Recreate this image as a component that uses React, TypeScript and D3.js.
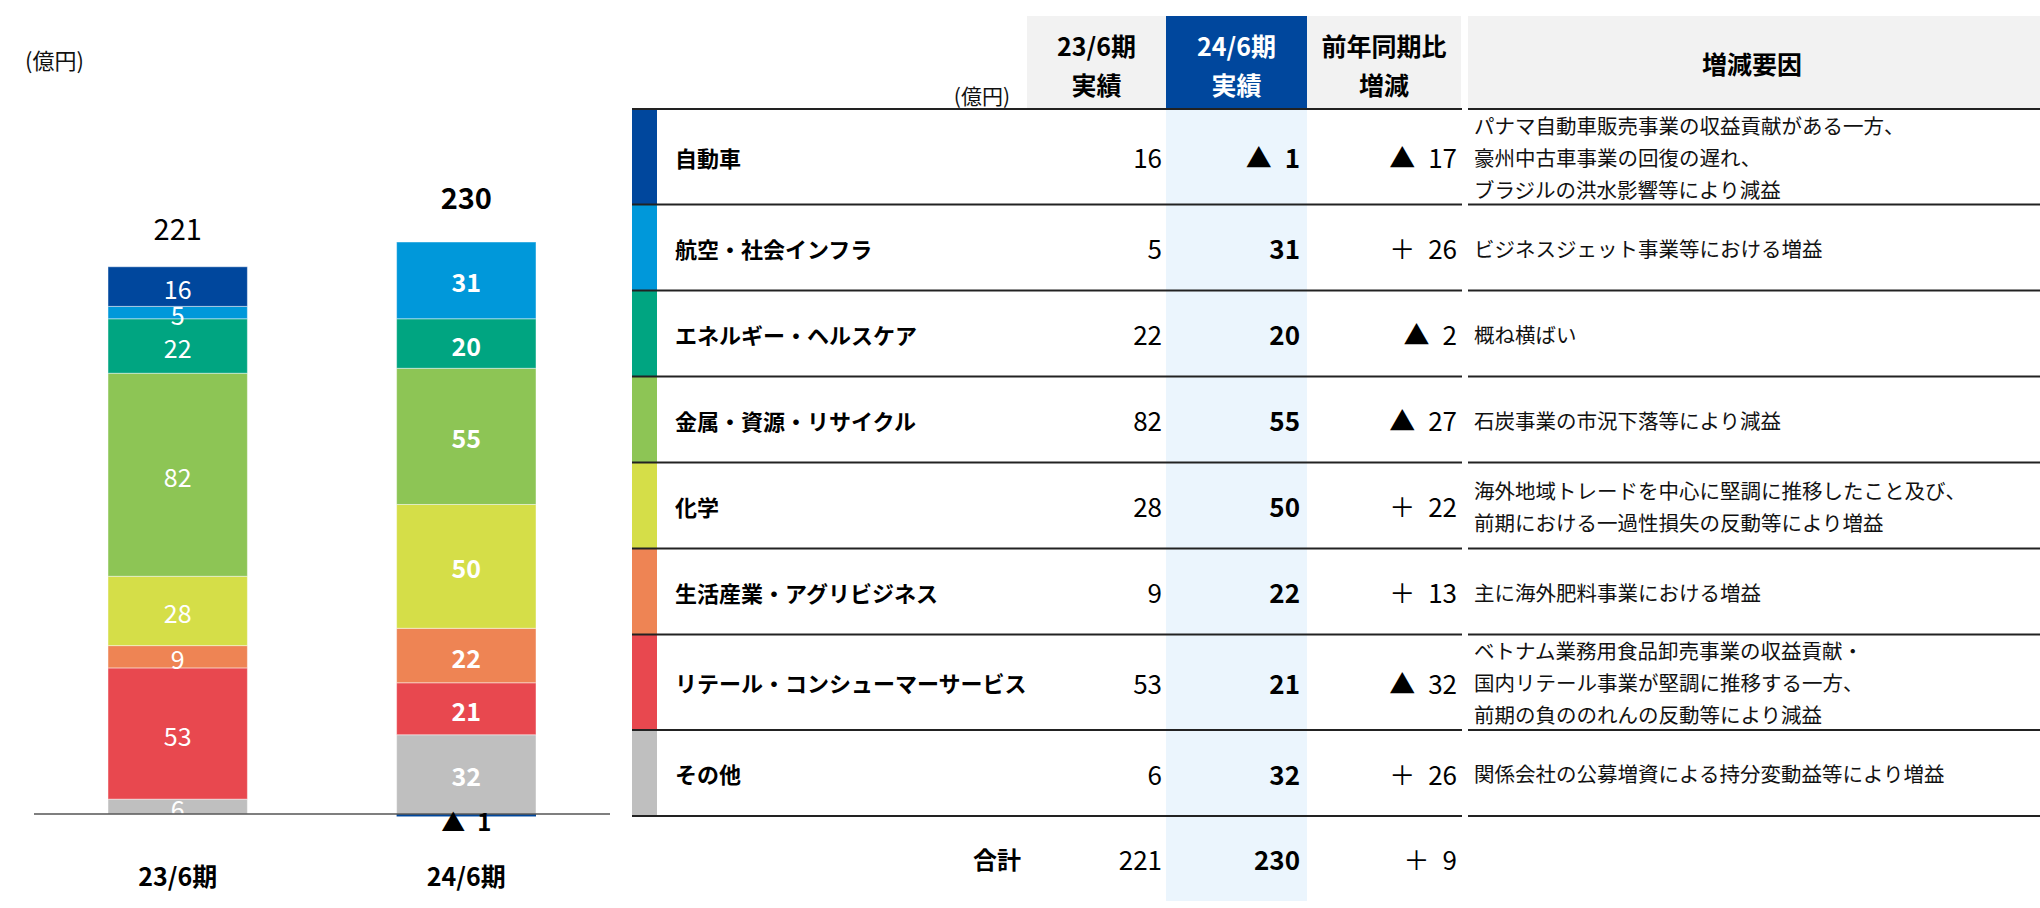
import React from "react";
import * as d3 from "d3";

const CATEGORIES = ["23/6期", "24/6期"];
const SEGMENTS = [
  "自動車",
  "航空・社会インフラ",
  "エネルギー・ヘルスケア",
  "金属・資源・リサイクル",
  "化学",
  "生活産業・アグリビジネス",
  "リテール・コンシューマーサービス",
  "その他",
];
const COLORS = ["#00479d", "#0098da", "#00a581", "#8dc555", "#d5de48", "#ee8454", "#e8484f", "#bfbfbf"];
const FY23 = [16, 5, 22, 82, 28, 9, 53, 6];
const FY24 = [-1, 31, 20, 55, 50, 22, 21, 32];
const CHANGE = [-17, 26, -2, -27, 22, 13, -32, 26];
const TOTALS = [221, 230];
const TOTAL_CHANGE = 9;
const REASONS = [
  ["パナマ自動車販売事業の収益貢献がある一方、", "豪州中古車事業の回復の遅れ、", "ブラジルの洪水影響等により減益"],
  ["ビジネスジェット事業等における増益"],
  ["概ね横ばい"],
  ["石炭事業の市況下落等により減益"],
  ["海外地域トレードを中心に堅調に推移したこと及び、", "前期における一過性損失の反動等により増益"],
  ["主に海外肥料事業における増益"],
  ["ベトナム業務用食品卸売事業の収益貢献・", "国内リテール事業が堅調に推移する一方、", "前期の負ののれんの反動等により減益"],
  ["関係会社の公募増資による持分変動益等により増益"],
];
const HEADERS = [["23/6期", "実績"], ["24/6期", "実績"], ["前年同期比", "増減"]];
const REASON_HEADER = "増減要因";
const UNIT = "(億円)";
const TOTAL_LABEL = "合計";

const FONT = "'Noto Sans CJK JP', 'Noto Sans', sans-serif";
const SP = "\u2002";

const fmtVal = (v: number) => (v < 0 ? `▲${SP}${-v}` : `${v}`);
const fmtChg = (v: number) => (v < 0 ? `▲${SP}${-v}` : `＋${SP}${v}`);

export default function App() {
  // ---------- chart ----------
  const rows = CATEGORIES.map((c, i) => {
    const o: any = { cat: c };
    SEGMENTS.forEach((s, j) => (o[s] = i === 0 ? FY23[j] : FY24[j]));
    return o;
  });
  const keys = [...SEGMENTS].reverse();
  const series = d3.stack<any>().keys(keys).offset(d3.stackOffsetDiverging)(rows);
  const posMax = d3.max(rows, (r: any) => d3.sum(SEGMENTS, (s) => Math.max(0, r[s]))) as number;

  const x = d3.scaleBand<string>().domain(CATEGORIES).range([108, 536]).paddingInner(0.517).paddingOuter(0);
  const y = d3.scaleLinear().domain([0, posMax]).range([814, 242]);
  const bw = x.bandwidth();

  // ---------- table ----------
  const tLeft = 632;
  const tRight = 1462;
  const rLeft = 1468;
  const rRight = 2040;
  const cols = [
    { x0: 1027, x1: 1166, right: 1162 },
    { x0: 1166, x1: 1307, right: 1300 },
    { x0: 1307, x1: 1461, right: 1457 },
  ];
  const headTop = 16;
  const headBottom = 109;
  const rowH = REASONS.map((r) => (r.length >= 3 ? 95.5 : 86));
  const rowTops: number[] = [];
  let acc = headBottom;
  rowH.forEach((h) => {
    rowTops.push(acc);
    acc += h;
  });
  const tableBottom = acc;
  const totalCenter = tableBottom + 42;

  return (
    <svg width={2040} height={908} style={{ position: "absolute", left: 0, top: 0, background: "#fff" }} fontFamily={FONT}>
      {/* ---- chart ---- */}
      <text x={25} y={59} fontSize={22} dominantBaseline="central" fill="#111">
        {UNIT}
      </text>
      {series.map((s) => {
        const segIdx = SEGMENTS.indexOf(s.key);
        return (
          <g key={s.key}>
            {s.map((d: any, ci: number) => {
              const v = rows[ci][s.key];
              if (!v) return null;
              const y0 = y(d[0]);
              const y1 = y(d[1]);
              const top = Math.min(y0, y1);
              const h = Math.abs(y1 - y0);
              return (
                <g key={ci}>
                  <rect
                    x={x(CATEGORIES[ci])}
                    y={top}
                    width={bw}
                    height={h}
                    fill={COLORS[segIdx]}
                    stroke="rgba(255,255,255,0.45)"
                    strokeWidth={v > 0 ? 1 : 0}
                  />
                  {v > 0 && (
                    <text
                      x={(x(CATEGORIES[ci]) as number) + bw / 2}
                      y={top + h / 2 + 1}
                      textAnchor="middle"
                      dominantBaseline="central"
                      fontSize={25}
                      fontWeight={ci === 1 ? 700 : 400}
                      fill="#fff"
                    >
                      {v}
                    </text>
                  )}
                </g>
              );
            })}
          </g>
        );
      })}
      {/* axis line */}
      <line x1={34} x2={610} y1={y(0)} y2={y(0)} stroke="#555" strokeWidth={1.5} />
      {/* negative labels */}
      {rows.map((r: any, ci: number) =>
        SEGMENTS.filter((s) => r[s] < 0).map((s) => (
          <text
            key={s + ci}
            x={(x(CATEGORIES[ci]) as number) + bw / 2}
            y={y(r[s]) + 4}
            textAnchor="middle"
            dominantBaseline="central"
            fontSize={24}
            fontWeight={700}
            fill="#000"
          >
            {fmtVal(r[s])}
          </text>
        ))
      )}
      {/* totals */}
      {rows.map((r: any, ci: number) => {
        const pos = d3.sum(SEGMENTS, (s) => Math.max(0, r[s]));
        return (
          <text
            key={"t" + ci}
            x={(x(CATEGORIES[ci]) as number) + bw / 2}
            y={y(pos) - (ci === 1 ? 46 : 40)}
            textAnchor="middle"
            dominantBaseline="central"
            fontSize={29}
            fontWeight={ci === 1 ? 700 : 400}
            fill="#000"
          >
            {TOTALS[ci]}
          </text>
        );
      })}
      {/* category labels */}
      {CATEGORIES.map((c) => (
        <text
          key={c}
          x={(x(c) as number) + bw / 2}
          y={875}
          textAnchor="middle"
          dominantBaseline="central"
          fontSize={25}
          fontWeight={700}
          fill="#000"
        >
          {c}
        </text>
      ))}

      {/* ---- table ---- */}
      <rect x={cols[1].x0} y={headBottom} width={cols[1].x1 - cols[1].x0} height={901 - headBottom} fill="#ebf5fd" />
      {HEADERS.map((hd, i) => (
        <g key={"h" + i}>
          <rect
            x={cols[i].x0}
            y={headTop}
            width={cols[i].x1 - cols[i].x0}
            height={headBottom - headTop}
            fill={i === 1 ? "#00479d" : "#f2f2f2"}
          />
          {hd.map((line, li) => (
            <text
              key={li}
              x={(cols[i].x0 + cols[i].x1) / 2}
              y={li === 0 ? 45 : 84}
              textAnchor="middle"
              dominantBaseline="central"
              fontSize={25}
              fontWeight={700}
              fill={i === 1 ? "#fff" : "#000"}
            >
              {line}
            </text>
          ))}
        </g>
      ))}
      <rect x={rLeft} y={headTop} width={rRight - rLeft} height={headBottom - headTop} fill="#f2f2f2" />
      <text x={1752} y={63} textAnchor="middle" dominantBaseline="central" fontSize={25} fontWeight={700} fill="#000">
        {REASON_HEADER}
      </text>
      <text x={1010} y={95} textAnchor="end" dominantBaseline="central" fontSize={21} fill="#111">
        {UNIT}
      </text>

      {SEGMENTS.map((s, i) => {
        const top = rowTops[i];
        const h = rowH[i];
        const cy = top + h / 2;
        const n = REASONS[i].length;
        return (
          <g key={"r" + i}>
            <rect x={tLeft} y={top} width={25} height={h} fill={COLORS[i]} />
            <text x={675} y={cy} dominantBaseline="central" fontSize={22} fontWeight={700} fill="#000">
              {s}
            </text>
            <text x={cols[0].right} y={cy} textAnchor="end" dominantBaseline="central" fontSize={26} fill="#000">
              {fmtVal(FY23[i])}
            </text>
            <text x={cols[1].right} y={cy} textAnchor="end" dominantBaseline="central" fontSize={26} fontWeight={700} fill="#000">
              {fmtVal(FY24[i])}
            </text>
            <text x={cols[2].right} y={cy} textAnchor="end" dominantBaseline="central" fontSize={26} fill="#000">
              {fmtChg(CHANGE[i])}
            </text>
            {REASONS[i].map((line, li) => (
              <text
                key={li}
                x={1474}
                y={cy + (li - (n - 1) / 2) * 32}
                dominantBaseline="central"
                fontSize={20.5}
                fill="#111"
              >
                {line}
              </text>
            ))}
          </g>
        );
      })}
      {[headBottom, ...rowTops.slice(1), tableBottom].map((ly, i) => (
        <g key={"l" + i}>
          <line x1={tLeft} x2={tRight} y1={ly} y2={ly} stroke="#222" strokeWidth={2} />
          <line x1={rLeft} x2={rRight} y1={ly} y2={ly} stroke="#222" strokeWidth={2} />
        </g>
      ))}
      <text x={1021} y={totalCenter} textAnchor="end" dominantBaseline="central" fontSize={24} fontWeight={700} fill="#000">
        {TOTAL_LABEL}
      </text>
      <text x={cols[0].right} y={totalCenter} textAnchor="end" dominantBaseline="central" fontSize={26} fill="#000">
        {TOTALS[0]}
      </text>
      <text x={cols[1].right} y={totalCenter} textAnchor="end" dominantBaseline="central" fontSize={26} fontWeight={700} fill="#000">
        {TOTALS[1]}
      </text>
      <text x={cols[2].right} y={totalCenter} textAnchor="end" dominantBaseline="central" fontSize={26} fill="#000">
        {fmtChg(TOTAL_CHANGE)}
      </text>
    </svg>
  );
}
